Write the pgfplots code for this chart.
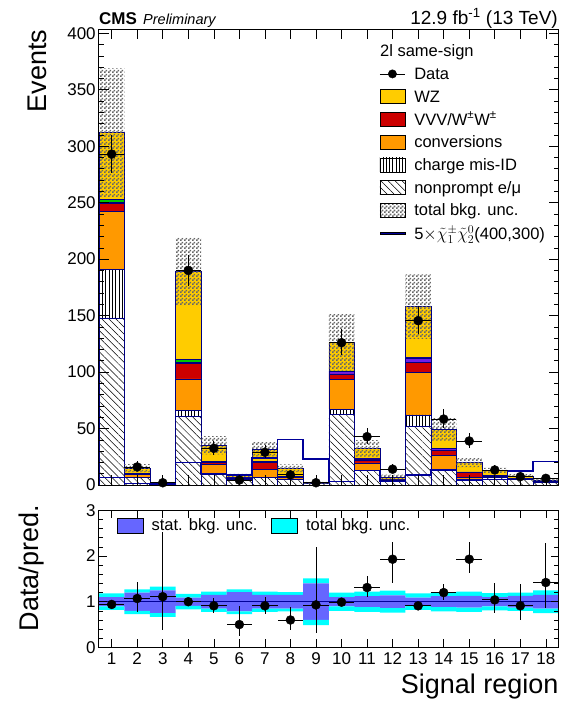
\documentclass[border=0pt]{standalone}
\usepackage{fontspec}
\setmainfont{Liberation Sans}
\usepackage{pgfplots}
\usepackage{pgfplotstable}
\pgfplotsset{compat=1.18}
\usetikzlibrary{patterns,patterns.meta}

\definecolor{wz}{RGB}{255,204,0}
\definecolor{vvv}{RGB}{204,0,0}
\definecolor{conv}{RGB}{255,153,0}
\definecolor{rgrn}{RGB}{0,200,0}
\definecolor{rvio}{RGB}{110,30,230}
\definecolor{sig}{RGB}{0,0,153}
\definecolor{statb}{RGB}{102,102,255}
\definecolor{totb}{RGB}{0,255,255}

% grey checker for the total bkg. uncertainty
\pgfdeclarepatternformonly{checker}{\pgfqpoint{0pt}{0pt}}{\pgfqpoint{4pt}{4pt}}{\pgfqpoint{4pt}{4pt}}{%
  \pgfpathrectangle{\pgfqpoint{0pt}{0pt}}{\pgfqpoint{2pt}{2pt}}%
  \pgfpathrectangle{\pgfqpoint{2pt}{2pt}}{\pgfqpoint{2pt}{2pt}}%
  \pgfusepath{fill}}

% stacked backgrounds per signal region
\pgfplotstableread{
x np cmid conv vvv vio grn wz
1 148 43 51 7.5 1 2.5 59
2 6.5 0.5 2.5 0.5 0.2 0.1 4.7
3 1.2 0.05 0.15 0.05 0 0 0.35
4 60.5 5.5 28 13.5 1 3 77.5
5 9.7 0.3 8 2 1 0.2 14
6 4.5 0.2 1 0.5 0.2 0.1 2
7 6.5 0.3 7 6.5 0.5 0.2 10.8
8 5 0.3 1.5 0.7 0.2 0.1 7
9 1.5 0.05 0.2 0.05 0 0 0.4
10 62.8 4.5 26 5 2.5 0.3 25.2
11 12.7 0.5 6.5 2.5 1 0.1 9.2
12 3.5 0.2 0.8 0.5 0.2 0 2
13 52 10 37.5 9 4 0.5 45
14 13 0.5 13 4 2 0.1 16.7
15 5 0.2 1.5 4.5 0.4 0 8.2
16 6.5 0.3 0.8 0.8 0.3 0 4
17 5 0.1 0.5 0.4 0.2 0 1.8
18 2.5 0.1 0.4 0.2 0.1 0 0.9
}\stk

% total bkg. unc.: lower edge and band height
\pgfplotstableread{
x lo band
1 255 114
2 11.5 7
3 0.8 2
4 159 60
5 27.2 16
6 6.5 4
7 25.3 13
8 11.3 7
9 1.1 2.2
10 101.3 50
11 25.2 14.6
12 5.2 4
13 129.5 57
14 39.3 20
15 15.8 8
16 10.3 4.8
17 6.2 3.6
18 3.2 2
}\unc

\pgfplotstableread{
x y ex ep em
1 293 0.5 17 17
2 16 0.5 5 4
3 2 0.5 2.6 1.3
4 190 0.5 14 14
5 32.5 0.5 6.5 5.5
6 4.4 0.5 3.4 2.1
7 29 0.5 6 5.3
8 9 0.5 4 3
9 2 0.5 2.6 1.3
10 126 0.5 12 11
11 42.8 0.5 7.5 6.5
12 14 0.5 4.8 3.7
13 145.5 0.5 13 12
14 58.4 0.5 8.7 7.6
15 39 0.5 7.3 6.2
16 13.3 0.5 4.7 3.6
17 7.4 0.5 3.8 2.7
18 5.9 0.5 3.5 2.4
}\dat

\pgfplotstableread{
x y ex ep em
1 0.94 0.5 0.06 0.06
2 1.07 0.5 0.37 0.29
3 1.11 0.5 1.42 0.73
4 1.00 0.5 0.07 0.07
5 0.91 0.5 0.18 0.16
6 0.50 0.5 0.40 0.24
7 0.91 0.5 0.19 0.17
8 0.60 0.5 0.29 0.22
9 0.93 0.5 1.26 0.61
10 0.99 0.5 0.09 0.09
11 1.31 0.5 0.25 0.20
12 1.93 0.5 0.38 0.51
13 0.91 0.5 0.08 0.08
14 1.20 0.5 0.18 0.17
15 1.93 0.5 0.38 0.31
16 1.04 0.5 0.38 0.29
17 0.91 0.5 0.47 0.31
18 1.42 0.5 0.86 0.56
}\rat

% ratio bands: base, total part, stat part, total part
\pgfplotstableread{
x base c1 s c2
1 0.82 0.08 0.20 0.08
2 0.73 0.07 0.40 0.07
3 0.67 0.08 0.50 0.08
4 0.83 0.08 0.18 0.08
5 0.78 0.07 0.30 0.07
6 0.73 0.06 0.42 0.06
7 0.78 0.07 0.30 0.07
8 0.79 0.06 0.30 0.06
9 0.49 0.11 0.80 0.11
10 0.80 0.10 0.20 0.10
11 0.78 0.10 0.24 0.10
12 0.76 0.10 0.28 0.10
13 0.82 0.09 0.18 0.09
14 0.79 0.09 0.24 0.09
15 0.78 0.09 0.26 0.09
16 0.81 0.09 0.20 0.09
17 0.80 0.07 0.26 0.07
18 0.75 0.10 0.30 0.10
}\band

\pgfplotsset{
  topax/.style={scale only axis, width=459.7pt, height=455.7pt,
    xmin=0.5, xmax=18.5, ymin=0, ymax=403.5,
    at={(98.9pt,-485pt)}, anchor=south west},
  botax/.style={scale only axis, width=459.7pt, height=137.1pt,
    xmin=0.5, xmax=18.5, ymin=0, ymax=3,
    at={(98.9pt,-647.4pt)}, anchor=south west},
  stk/.style={draw=sig!85!black, line width=0.5pt},
  frame/.style={axis on top, tick align=inside, tick pos=both,
    axis line style={line width=0.8pt}, tick style={black, line width=0.6pt},
    ticklabel style={font=\fontsize{17}{17}\selectfont},
    /pgf/number format/assume math mode=true,
    yticklabel style={inner sep=0pt, xshift=-3pt},
    xticklabel style={inner sep=0pt, yshift=-5pt},
    label style={font=\fontsize{27}{30}\selectfont, inner sep=0pt},
    xtick={1,...,18}},
}

\begin{document}
\begin{tikzpicture}
\useasboundingbox (0,0) rectangle (561pt,-705pt);

% backgrounds
\begin{axis}[topax, hide axis, ybar stacked, bar width=1, bar shift=0pt]
\addplot[stk, pattern={Lines[angle=-45,distance=5pt,line width=0.5pt]}, pattern color=black] table[x=x,y=np] {\stk};
\addplot[stk, pattern={Lines[angle=90,distance=3.3pt,line width=0.5pt]}, pattern color=black] table[x=x,y=cmid] {\stk};
\addplot[stk, fill=conv] table[x=x,y=conv] {\stk};
\addplot[stk, fill=vvv] table[x=x,y=vvv] {\stk};
\addplot[stk, fill=rvio] table[x=x,y=vio] {\stk};
\addplot[stk, fill=rgrn] table[x=x,y=grn] {\stk};
\addplot[stk, fill=wz] table[x=x,y=wz] {\stk};
\end{axis}

% total bkg. uncertainty
\begin{axis}[topax, hide axis, ybar stacked, bar width=1, bar shift=0pt]
\addplot[draw=none, fill=none] table[x=x,y=lo] {\unc};
\addplot[draw=none, pattern=checker, pattern color=black!60] table[x=x,y=band] {\unc};
\end{axis}

% frame, signal, data, legend
\begin{axis}[topax, frame,
  xticklabels={},
  ytick={0,50,...,400}, minor y tick num=4,
  major tick length=10pt, minor tick length=5pt,
  ylabel={Events},
  ylabel style={at={(axis description cs:-0.113,1)}, anchor=south east},
  legend cell align=left,
  legend style={at={(axis description cs:0.61,0.972)}, anchor=north west,
    draw=none, fill=none, inner sep=0pt, row sep=4.5pt,
    font=\fontsize{16.5}{18}\selectfont,
    /tikz/every odd column/.append style={column sep=7pt}},
]
\addlegendimage{legend image code/.code={\node[overlay, anchor=west, inner sep=0pt] at (0pt,0pt) {2l same-sign};}}
\addlegendentry{\strut}
\addlegendimage{legend image code/.code={\draw[black, line width=0.8pt] (0pt,0pt) -- (25pt,0pt); \fill[black] (12.5pt,0pt) circle (4.2pt);}}
\addlegendentry{\strut Data}
\addlegendimage{legend image code/.code={\draw[fill=wz, draw=black, line width=0.6pt] (0pt,-7pt) rectangle (25pt,7pt);}}
\addlegendentry{\strut WZ}
\addlegendimage{legend image code/.code={\draw[fill=vvv, draw=black, line width=0.6pt] (0pt,-7pt) rectangle (25pt,7pt);}}
\addlegendentry{\strut VVV/W\textsuperscript{±}W\textsuperscript{±}}
\addlegendimage{legend image code/.code={\draw[fill=conv, draw=black, line width=0.6pt] (0pt,-7pt) rectangle (25pt,7pt);}}
\addlegendentry{\strut conversions}
\addlegendimage{legend image code/.code={\draw[pattern={Lines[angle=90,distance=3.3pt,line width=0.5pt]}, pattern color=black, draw=black, line width=0.6pt] (0pt,-7pt) rectangle (25pt,7pt);}}
\addlegendentry{\strut charge mis-ID}
\addlegendimage{legend image code/.code={\draw[pattern={Lines[angle=-45,distance=5pt,line width=0.5pt]}, pattern color=black, draw=black, line width=0.6pt] (0pt,-7pt) rectangle (25pt,7pt);}}
\addlegendentry{\strut nonprompt e/μ}
\addlegendimage{legend image code/.code={\draw[pattern=checker, pattern color=black!60, draw=black, line width=0.6pt] (0pt,-7pt) rectangle (25pt,7pt);}}
\addlegendentry{\strut total bkg. unc.}
\addlegendimage{legend image code/.code={\fill[fill=sig] (0pt,-1pt) rectangle (25pt,1pt);}}
\addlegendentry{\strut 5$\times\tilde{\chi}^{\pm}_{1}\tilde{\chi}^{0}_{2}$(400,300)}

\addplot[const plot, sig, line width=1.5pt, forget plot] coordinates {
  (0.5,6.5) (1.5,1.5) (2.5,0.8) (3.5,20) (4.5,10) (5.5,9) (6.5,24) (7.5,40.5) (8.5,23)
  (9.5,3) (10.5,13) (11.5,3) (12.5,9) (13.5,13.5) (14.5,4.5) (15.5,5) (16.5,12.5) (17.5,21) (18.5,21)
};
\addplot[only marks, mark=*, mark size=4.5pt, black, forget plot,
  error bars/.cd, x dir=both, x explicit, y dir=both, y explicit,
  error mark=none, error bar style={line width=0.8pt, black}]
  table[x=x, y=y, x error=ex, y error plus=ep, y error minus=em] {\dat};
\end{axis}

% ratio bands
\begin{axis}[botax, hide axis, ybar stacked, bar width=1, bar shift=0pt]
\addplot[draw=none, fill=none] table[x=x,y=base] {\band};
\addplot[draw=none, fill=totb] table[x=x,y=c1] {\band};
\addplot[draw=none, fill=statb] table[x=x,y=s] {\band};
\addplot[draw=none, fill=totb] table[x=x,y=c2] {\band};
\end{axis}

% ratio frame and data
\begin{axis}[botax, frame,
  ytick={0,1,2,3}, minor y tick num=4,
  major tick length=8pt, minor tick length=4.5pt,
  xlabel={Signal region}, ylabel={Data/pred.},
  xlabel style={at={(axis description cs:1,-0.19)}, anchor=north east},
  ylabel style={at={(axis description cs:-0.119,1.04)}, anchor=south east},
  legend columns=2, legend cell align=left,
  legend style={at={(axis description cs:0.039,0.955)}, anchor=north west,
    draw=none, fill=none, inner sep=0pt,
    font=\fontsize{16.5}{18}\selectfont,
    /tikz/every odd column/.append style={column sep=6pt},
    /tikz/every even column/.append style={column sep=12pt}},
]
\addlegendimage{legend image code/.code={\draw[fill=statb, draw=black, line width=0.6pt] (0pt,-7.5pt) rectangle (26pt,7.5pt);}}
\addlegendentry{stat. bkg. unc.}
\addlegendimage{legend image code/.code={\draw[fill=totb, draw=black, line width=0.6pt] (0pt,-7.5pt) rectangle (26pt,7.5pt);}}
\addlegendentry{total bkg. unc.}
\addplot[sig, line width=1.2pt, forget plot] coordinates {(0.5,1) (18.5,1)};
\addplot[only marks, mark=*, mark size=4.5pt, black, forget plot,
  error bars/.cd, x dir=both, x explicit, y dir=both, y explicit,
  error mark=none, error bar style={line width=0.8pt, black}]
  table[x=x, y=y, x error=ex, y error plus=ep, y error minus=em] {\rat};
\end{axis}

\node[anchor=base west, inner sep=0pt, font=\fontsize{17}{18}\selectfont\bfseries] at (99pt,-24pt) {CMS};
\node[anchor=base west, inner sep=0pt, font=\fontsize{14.5}{16}\selectfont\itshape] at (143pt,-24pt) {Preliminary};
\node[anchor=base east, inner sep=0pt, font=\fontsize{19}{20}\selectfont] at (558pt,-24pt) {12.9 fb\textsuperscript{-1} (13 TeV)};
\end{tikzpicture}
\end{document}
